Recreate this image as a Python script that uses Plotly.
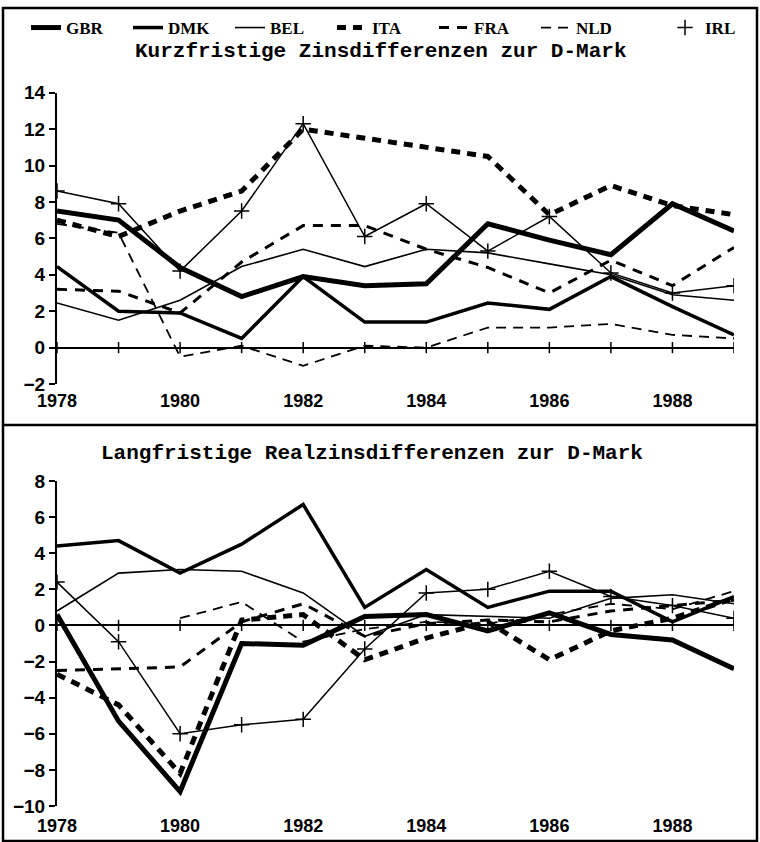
import plotly.graph_objects as go

W, H = 760, 842
years = list(range(1978, 1990))
tick_years = [1978, 1980, 1982, 1984, 1986, 1988]
countries = ["GBR", "DMK", "BEL", "ITA", "FRA", "NLD", "IRL"]

# Kurzfristige Zinsdifferenzen zur D-Mark
short_GBR = [7.5, 7.0, 4.4, 2.8, 3.9, 3.4, 3.5, 6.8, 5.9, 5.1, 7.9, 6.4]
short_DMK = [4.45, 2.0, 1.9, 0.5, 3.9, 1.4, 1.4, 2.45, 2.1, 3.9, 2.25, 0.7]
short_BEL = [2.45, 1.5, 2.6, 4.45, 5.4, 4.45, 5.4, 5.2, 4.6, 4.0, 2.9, 2.6]
short_ITA = [7.0, 6.1, 7.5, 8.6, 12.0, 11.5, 11.0, 10.5, 7.3, 8.9, 7.8, 7.3]
short_FRA = [3.2, 3.1, 1.9, 4.7, 6.7, 6.7, 5.4, 4.4, 3.0, 4.8, 3.4, 5.5]
short_NLD = [6.8, 6.3, -0.5, 0.1, -1.0, 0.1, 0.0, 1.1, 1.1, 1.3, 0.7, 0.5]
short_IRL = [8.6, 7.9, 4.2, 7.5, 12.3, 6.1, 7.9, 5.3, 7.2, 4.1, 3.0, 3.4]

# Langfristige Realzinsdifferenzen zur D-Mark
long_GBR = [0.6, -5.3, -9.2, -1.0, -1.1, 0.5, 0.6, -0.3, 0.7, -0.5, -0.8, -2.4]
long_DMK = [4.4, 4.7, 2.9, 4.5, 6.7, 1.0, 3.1, 1.0, 1.9, 1.9, 0.2, 1.6]
long_BEL = [0.8, 2.9, 3.1, 3.0, 1.8, -0.6, 0.6, 0.5, 0.4, 1.5, 1.7, 1.2]
long_ITA = [-2.7, -4.4, -8.2, 0.3, 0.6, -1.9, -0.7, 0.2, -1.9, -0.3, 0.4, 1.5]
long_FRA = [-2.5, -2.4, -2.3, 0.2, 1.2, -0.6, 0.1, 0.3, 0.2, 0.8, 1.1, 1.4]
long_NLD = [None, None, 0.4, 1.3, -0.9, -0.2, 0.2, 0.1, 0.6, 1.2, 0.9, 1.9]
long_IRL = [2.4, -0.9, -6.0, -5.5, -5.2, -1.3, 1.8, 2.0, 3.0, 1.6, 1.1, 0.4]

short_data = {"GBR": short_GBR, "DMK": short_DMK, "BEL": short_BEL, "ITA": short_ITA,
              "FRA": short_FRA, "NLD": short_NLD, "IRL": short_IRL}
long_data = {"GBR": long_GBR, "DMK": long_DMK, "BEL": long_BEL, "ITA": long_ITA,
             "FRA": long_FRA, "NLD": long_NLD, "IRL": long_IRL}

title_top = "Kurzfristige Zinsdifferenzen zur D-Mark"
title_bottom = "Langfristige Realzinsdifferenzen zur D-Mark"

styles = {
    "GBR": dict(width=5, dash="solid"),
    "DMK": dict(width=3.5, dash="solid"),
    "BEL": dict(width=1.6, dash="solid"),
    "ITA": dict(width=5, dash="9px,7px"),
    "FRA": dict(width=3, dash="10px,8px"),
    "NLD": dict(width=1.8, dash="10px,7px"),
    "IRL": dict(width=1.5, dash="solid"),
}

fig = go.Figure()

for panel, data, xa, ya in [("top", short_data, "x", "y"), ("bottom", long_data, "x2", "y2")]:
    # year tick marks on the zero line
    fig.add_trace(go.Scatter(x=years, y=[0] * len(years), xaxis=xa, yaxis=ya, mode="markers",
                             marker=dict(symbol="line-ns", size=8, line=dict(width=1.5, color="black")),
                             showlegend=False, hoverinfo="skip"))
    for c in countries:
        st = styles[c]
        if c == "IRL":
            fig.add_trace(go.Scatter(x=years, y=data[c], xaxis=xa, yaxis=ya, mode="lines+markers",
                                     line=dict(color="black", width=st["width"]),
                                     marker=dict(symbol="cross-thin", size=11,
                                                 line=dict(width=1.5, color="black")),
                                     showlegend=False, name=c))
        else:
            fig.add_trace(go.Scatter(x=years, y=data[c], xaxis=xa, yaxis=ya, mode="lines",
                                     line=dict(color="black", width=st["width"], dash=st["dash"]),
                                     showlegend=(panel == "top"), name=c, legendrank=countries.index(c)))

# legend entry for IRL: marker only, in its own legend box at the right
fig.add_trace(go.Scatter(x=[None], y=[None], mode="markers", name="IRL", legend="legend2",
                         marker=dict(symbol="cross-thin", size=11, line=dict(width=1.5, color="black")),
                         showlegend=True))

ytickfont = dict(family="Liberation Sans", size=19, color="black", weight="bold")
xtickfont = dict(family="Liberation Sans", size=18, color="black", weight="bold")
legfont = dict(family="Liberation Serif", size=17, color="black", weight="bold")

def px_y(p):
    return 1 - p / H

axis_common = dict(showgrid=False, color="black", automargin=False)
fig.update_layout(
    width=W, height=H,
    margin=dict(l=0, r=0, t=0, b=0, autoexpand=False),
    paper_bgcolor="white", plot_bgcolor="white",
    xaxis=dict(domain=[57 / W, 734 / W], range=[1978, 1989], tickvals=tick_years,
               showline=False, zeroline=False, ticks="", ticklabelstandoff=4,
               tickfont=xtickfont, anchor="y", **axis_common),
    yaxis=dict(domain=[px_y(384), px_y(92.7)], range=[-2, 14], dtick=2, showline=True,
               linewidth=2, linecolor="black", ticks="outside", ticklen=6, tickwidth=2,
               zeroline=True, zerolinewidth=2, zerolinecolor="black", tickfont=ytickfont,
               anchor="x", **axis_common),
    xaxis2=dict(domain=[57 / W, 734 / W], range=[1978, 1989], tickvals=tick_years,
                showline=False, zeroline=False, ticks="", ticklabelstandoff=7,
                tickfont=xtickfont, anchor="y2", **axis_common),
    yaxis2=dict(domain=[px_y(806), px_y(481)], range=[-10, 8], dtick=2, showline=True,
                linewidth=2, linecolor="black", ticks="outside", ticklen=6, tickwidth=2,
                zeroline=True, zerolinewidth=2, zerolinecolor="black", tickfont=ytickfont,
                anchor="x2", **axis_common),
    legend=dict(orientation="h", x=26 / W, xanchor="left", y=px_y(28), yanchor="middle",
                entrywidth=57, entrywidthmode="pixels", bgcolor="rgba(0,0,0,0)",
                font=legfont, traceorder="normal", itemwidth=30),
    legend2=dict(orientation="h", x=665 / W, xanchor="left", y=px_y(28), yanchor="middle",
                 bgcolor="rgba(0,0,0,0)", font=legfont, itemwidth=30),
    showlegend=True,
    annotations=[
        dict(text=title_top, x=380 / W, y=px_y(52), xref="paper", yref="paper", showarrow=False,
             xanchor="center", yanchor="middle",
             font=dict(family="Liberation Mono", size=21, color="black", weight="bold")),
        dict(text=title_bottom, x=371.5 / W, y=px_y(453), xref="paper", yref="paper", showarrow=False,
             xanchor="center", yanchor="middle",
             font=dict(family="Liberation Mono", size=21, color="black", weight="bold")),
    ],
    shapes=[
        dict(type="rect", xref="paper", yref="paper", x0=3 / W, x1=757 / W, y0=px_y(841), y1=px_y(8),
             line=dict(color="black", width=2.5)),
        dict(type="line", xref="paper", yref="paper", x0=3 / W, x1=757 / W, y0=px_y(425), y1=px_y(425),
             line=dict(color="black", width=2.5)),
    ],
)

fig.write_html("out.html", config={"displayModeBar": False},
               post_script="document.body.style.margin='0';document.body.style.overflow='hidden';")
